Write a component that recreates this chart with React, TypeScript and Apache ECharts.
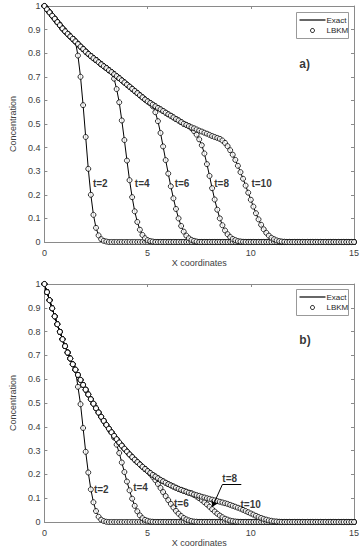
import React, { useEffect, useRef } from "react";
import * as echarts from "echarts";

// Grid nodes (x coordinates)
const xGrid = [0,0.125,0.25,0.375,0.5,0.625,0.75,0.875,1,1.125,1.25,1.375,1.5,1.625,1.75,1.875,2,2.125,2.25,2.375,2.5,2.625,2.75,2.875,3,3.125,3.25,3.375,3.5,3.625,3.75,3.875,4,4.125,4.25,4.375,4.5,4.625,4.75,4.875,5,5.125,5.25,5.375,5.5,5.625,5.75,5.875,6,6.125,6.25,6.375,6.5,6.625,6.75,6.875,7,7.125,7.25,7.375,7.5,7.625,7.75,7.875,8,8.125,8.25,8.375,8.5,8.625,8.75,8.875,9,9.125,9.25,9.375,9.5,9.625,9.75,9.875,10,10.125,10.25,10.375,10.5,10.625,10.75,10.875,11,11.125,11.25,11.375,11.5,11.625,11.75,11.875,12,12.125,12.25,12.375,12.5,12.625,12.75,12.875,13,13.125,13.25,13.375,13.5,13.625,13.75,13.875,14,14.125,14.25,14.375,14.5,14.625,14.75,14.875,15];

const xTicks = [0, 5, 10, 15];
const yTicks = [0, 0.1, 0.2, 0.3, 0.4, 0.5, 0.6, 0.7, 0.8, 0.9, 1];

// Panel a) : t=10 profile (shared upstream part of all profiles)
const aT10 = [1.000,0.986,0.973,0.959,0.946,0.932,0.919,0.905,0.893,0.882,0.871,0.861,0.850,0.839,0.828,0.818,0.807,0.797,0.788,0.779,0.771,0.762,0.753,0.745,0.737,0.728,0.720,0.711,0.703,0.694,0.685,0.676,0.667,0.658,0.649,0.640,0.631,0.622,0.613,0.604,0.596,0.589,0.582,0.575,0.568,0.562,0.555,0.548,0.541,0.535,0.528,0.521,0.515,0.508,0.501,0.496,0.491,0.486,0.482,0.477,0.472,0.468,0.463,0.459,0.454,0.449,0.445,0.441,0.437,0.430,0.420,0.406,0.389,0.370,0.348,0.323,0.296,0.268,0.239,0.209,0.179,0.150,0.122,0.096,0.073,0.054,0.039,0.027,0.018,0.012,0.007,0.004,0.002,0.001,0];
// departing tails (start x, values)
const aT2From = 1.625;
const aT2 = [0.790,0.700,0.580,0.445,0.310,0.200,0.115,0.060,0.028,0.012,0.005,0.002,0];
const aT4From = 3.375;
const aT4 = [0.692,0.648,0.592,0.515,0.432,0.345,0.262,0.190,0.130,0.085,0.052,0.030,0.016,0.008,0.004,0.002,0];
const aT6From = 5.25;
const aT6 = [0.575,0.550,0.512,0.462,0.405,0.347,0.290,0.236,0.185,0.140,0.100,0.068,0.044,0.027,0.016,0.009,0.005,0.002,0];
const aT8From = 7.125;
const aT8 = [0.482,0.470,0.455,0.435,0.410,0.375,0.330,0.280,0.228,0.180,0.137,0.100,0.071,0.049,0.033,0.021,0.013,0.008,0.004,0.002,0.001,0];

// Panel b)
const bT10 = [1.000,0.966,0.932,0.898,0.864,0.831,0.799,0.768,0.739,0.712,0.687,0.663,0.640,0.618,0.597,0.576,0.556,0.536,0.516,0.497,0.478,0.460,0.442,0.425,0.408,0.392,0.377,0.362,0.348,0.334,0.321,0.308,0.296,0.284,0.273,0.262,0.252,0.242,0.232,0.223,0.214,0.206,0.198,0.191,0.184,0.177,0.171,0.165,0.159,0.154,0.149,0.144,0.139,0.135,0.131,0.127,0.123,0.120,0.116,0.113,0.110,0.106,0.103,0.100,0.097,0.094,0.091,0.088,0.085,0.082,0.079,0.076,0.072,0.068,0.064,0.060,0.056,0.051,0.046,0.041,0.036,0.031,0.026,0.021,0.017,0.013,0.010,0.007,0.005,0.003,0.002,0.001,0];
const bT2From = 1.625;
const bT2 = [0.568,0.495,0.395,0.295,0.208,0.137,0.083,0.046,0.022,0.010,0.004,0.001,0];
const bT4From = 3.375;
const bT4 = [0.355,0.325,0.290,0.250,0.210,0.170,0.133,0.098,0.068,0.045,0.028,0.016,0.009,0.005,0.002,0.001,0];
const bT6From = 5.125;
const bT6 = [0.203,0.190,0.176,0.160,0.143,0.126,0.109,0.092,0.076,0.061,0.047,0.035,0.025,0.017,0.011,0.007,0.004,0.002,0.001,0];
const bT8From = 7.25;
const bT8 = [0.114,0.107,0.100,0.092,0.083,0.074,0.064,0.054,0.044,0.035,0.027,0.020,0.014,0.010,0.006,0.004,0.002,0.001,0];

const labelsA = ["t=2", "t=4", "t=6", "t=8", "t=10"];
const labelsB = ["t=2", "t=4", "t=6", "t=8", "t=10"];

function buildCurve(shared: number[], from: number | null, tail: number[] | null): number[][] {
  let ys: number[];
  if (from === null || tail === null) {
    ys = shared.slice();
  } else {
    const idx = xGrid.indexOf(from);
    ys = shared.slice(0, idx).concat(tail);
  }
  while (ys.length < xGrid.length) ys.push(0);
  return xGrid.map((x, i) => [x, ys[i]]);
}

const FONT = "'Liberation Sans', Arial, Helvetica, sans-serif";
const AXIS_COLOR = "#8a8a8a";
const TEXT_COLOR = "#404040";

function makeX(gridIndex: number, top: boolean, withName: boolean) {
  return {
    type: "value",
    gridIndex,
    position: top ? "top" : "bottom",
    min: xTicks[0],
    max: xTicks[xTicks.length - 1],
    interval: xTicks[1] - xTicks[0],
    name: withName ? "X coordinates" : "",
    nameLocation: "middle",
    nameGap: 16,
    nameTextStyle: { color: TEXT_COLOR, fontSize: 9, fontFamily: FONT },
    axisLine: { show: true, onZero: false, lineStyle: { color: AXIS_COLOR, width: 1 } },
    axisTick: { show: true, inside: true, length: 3, lineStyle: { color: AXIS_COLOR } },
    axisLabel: { show: !top, color: TEXT_COLOR, fontSize: 9, fontFamily: FONT, margin: 6 },
    splitLine: { show: false },
  };
}

function makeY(gridIndex: number, right: boolean, withName: boolean) {
  return {
    type: "value",
    gridIndex,
    position: right ? "right" : "left",
    min: yTicks[0],
    max: yTicks[yTicks.length - 1],
    interval: 0.1,
    name: withName ? "Concentration" : "",
    nameLocation: "middle",
    nameGap: 26,
    nameTextStyle: { color: TEXT_COLOR, fontSize: 9, fontFamily: FONT },
    axisLine: { show: true, onZero: false, lineStyle: { color: AXIS_COLOR, width: 1 } },
    axisTick: { show: true, inside: true, length: 3, lineStyle: { color: AXIS_COLOR } },
    axisLabel: { show: !right, color: TEXT_COLOR, fontSize: 9, fontFamily: FONT, margin: 4 },
    splitLine: { show: false },
  };
}

function panelSeries(axisIdx: number, curves: number[][][]) {
  const out: any[] = [];
  curves.forEach((d) => {
    out.push({
      name: "Exact",
      type: "line",
      xAxisIndex: axisIdx,
      yAxisIndex: axisIdx,
      data: d,
      showSymbol: false,
      symbol: "none",
      lineStyle: { color: "#000", width: 1 },
      z: 2,
    });
  });
  curves.forEach((d) => {
    out.push({
      name: "LBKM",
      type: "scatter",
      xAxisIndex: axisIdx,
      yAxisIndex: axisIdx,
      data: d,
      symbol: "circle",
      symbolSize: 5,
      itemStyle: { color: "#fff", borderColor: "#000", borderWidth: 1 },
      z: 3,
    });
  });
  return out;
}

function textSeries(axisIdx: number, items: { name: string; value: number[] }[], size: number) {
  return {
    type: "scatter",
    xAxisIndex: axisIdx,
    yAxisIndex: axisIdx,
    symbolSize: 0,
    silent: true,
    data: items,
    label: {
      show: true,
      position: "right",
      distance: 0,
      formatter: (p: any) => p.name,
      color: "#000",
      fontWeight: "bold",
      fontSize: size,
      fontFamily: FONT,
    },
    z: 5,
  };
}

function legendGraphic(left: number, top: number) {
  return {
    type: "group",
    left,
    top,
    children: [
      { type: "rect", shape: { x: 0, y: 0, width: 52, height: 26 }, style: { fill: "#fff", stroke: "#999", lineWidth: 1 } },
      { type: "line", shape: { x1: 3, y1: 7.5, x2: 29, y2: 7.5 }, style: { stroke: "#000", lineWidth: 1.2 } },
      { type: "text", x: 30, y: 7.5, style: { text: "Exact", fill: "#262626", fontSize: 8, fontFamily: FONT, verticalAlign: "middle" } },
      { type: "circle", shape: { cx: 16, cy: 18, r: 2 }, style: { fill: "#fff", stroke: "#000", lineWidth: 1 } },
      { type: "text", x: 30, y: 18, style: { text: "LBKM", fill: "#262626", fontSize: 8, fontFamily: FONT, verticalAlign: "middle" } },
    ],
  };
}

export default function App() {
  const ref = useRef<HTMLDivElement>(null);
  useEffect(() => {
    if (!ref.current) return;
    const chart = echarts.init(ref.current, null, { renderer: "svg" });

    const curvesA = [
      buildCurve(aT10, aT2From, aT2),
      buildCurve(aT10, aT4From, aT4),
      buildCurve(aT10, aT6From, aT6),
      buildCurve(aT10, aT8From, aT8),
      buildCurve(aT10, null, null),
    ];
    const curvesB = [
      buildCurve(bT10, bT2From, bT2),
      buildCurve(bT10, bT4From, bT4),
      buildCurve(bT10, bT6From, bT6),
      buildCurve(bT10, bT8From, bT8),
      buildCurve(bT10, null, null),
    ];

    const option: any = {
      animation: false,
      backgroundColor: "#fff",
      grid: [
        { left: 30, top: 6, width: 325, height: 236 },
        { left: 30, top: 284, width: 325, height: 238 },
      ],
      xAxis: [makeX(0, false, true), makeX(0, true, false), makeX(1, false, true), makeX(1, true, false)],
      yAxis: [makeY(0, false, true), makeY(0, true, false), makeY(1, false, true), makeY(1, true, false)],
      series: [
        ...panelSeries(0, curvesA),
        ...panelSeries(2, curvesB),
        textSeries(0, [
          { name: labelsA[0], value: [2.35, 0.25] },
          { name: labelsA[1], value: [4.38, 0.25] },
          { name: labelsA[2], value: [6.31, 0.25] },
          { name: labelsA[3], value: [8.23, 0.25] },
          { name: labelsA[4], value: [10.03, 0.25] },
        ], 10),
        textSeries(2, [
          { name: labelsB[0], value: [2.4, 0.136] },
          { name: labelsB[1], value: [4.3, 0.145] },
          { name: labelsB[2], value: [6.28, 0.077] },
          { name: labelsB[3], value: [8.62, 0.184] },
          { name: labelsB[4], value: [9.5, 0.075] },
        ], 10),
        textSeries(0, [{ name: "a)", value: [12.35, 0.756] }], 12),
        {
          ...textSeries(2, [{ name: "b)", value: [12.35, 0.765] }], 12),
          markLine: {
            silent: true,
            animation: false,
            label: { show: false },
            lineStyle: { color: "#000", width: 1, type: "solid" },
            data: [
              [
                { coord: [9.54, 0.157], symbol: "none" },
                { coord: [8.62, 0.157], symbol: "none" },
              ],
              [
                { coord: [8.62, 0.157], symbol: "none" },
                { coord: [8.14, 0.064], symbol: "arrow", symbolSize: 6 },
              ],
            ],
          },
        },
      ],
      graphic: [legendGraphic(296, 12), legendGraphic(296, 289)],
    };
    chart.setOption(option);
    return () => chart.dispose();
  }, []);
  return <div ref={ref} style={{ position: "absolute", left: 0, top: 0, width: 362, height: 550 }} />;
}
